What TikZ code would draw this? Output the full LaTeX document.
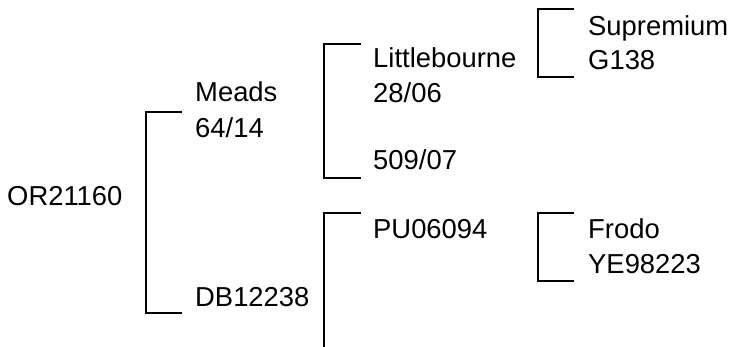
\documentclass[tikz,border=0pt]{standalone}
\usepackage{fontspec}
\setmainfont{Liberation Sans}
\begin{document}
\begin{tikzpicture}[x=1pt,y=-1pt,
  lbl/.style={anchor=base west,inner sep=0pt,font=\fontsize{27.4}{32}\selectfont},
  brk/.style={line width=2.2pt,black}]
\useasboundingbox (0,0) rectangle (729,347);
% texts
\node[lbl] (or) at (7,206) {OR21160};
\node[lbl] (meads) at (195,102) {Meads};
\node[lbl] (meadsno) at (195,138) {64/14};
\node[lbl] (db) at (195,307) {DB12238};
\node[lbl] (little) at (373,67.5) {Littlebourne};
\node[lbl] (littleno) at (373,102.5) {28/06};
\node[lbl] (dam1) at (373,170) {509/07};
\node[lbl] (pu) at (373,238.5) {PU06094};
\node[lbl] (sup) at (588,36) {Supremium};
\node[lbl] (supno) at (588,70) {G138};
\node[lbl] (frodo) at (588,239) {Frodo};
\node[lbl] (frodono) at (588,274) {YE98223};
% bracket corners
\coordinate (b1a) at (182,112); \coordinate (b1b) at (146,112);
\coordinate (b1c) at (146,313); \coordinate (b1d) at (182,313);
\coordinate (b2a) at (361,44);  \coordinate (b2b) at (324,44);
\coordinate (b2c) at (324,178); \coordinate (b2d) at (361,178);
\coordinate (b3a) at (361,213); \coordinate (b3b) at (324,213);
\coordinate (b3c) at (324,348);
\coordinate (b4a) at (574,9);   \coordinate (b4b) at (538,9);
\coordinate (b4c) at (538,77);  \coordinate (b4d) at (574,77);
\coordinate (b5a) at (574,213); \coordinate (b5b) at (538,213);
\coordinate (b5c) at (538,281); \coordinate (b5d) at (574,281);
\draw[brk] (b1a) -- (b1b) -- (b1c) -- (b1d);
\draw[brk] (b2a) -- (b2b) -- (b2c) -- (b2d);
\draw[brk] (b3a) -- (b3b) -- (b3c);
\draw[brk] (b4a) -- (b4b) -- (b4c) -- (b4d);
\draw[brk] (b5a) -- (b5b) -- (b5c) -- (b5d);
\end{tikzpicture}
\end{document}
